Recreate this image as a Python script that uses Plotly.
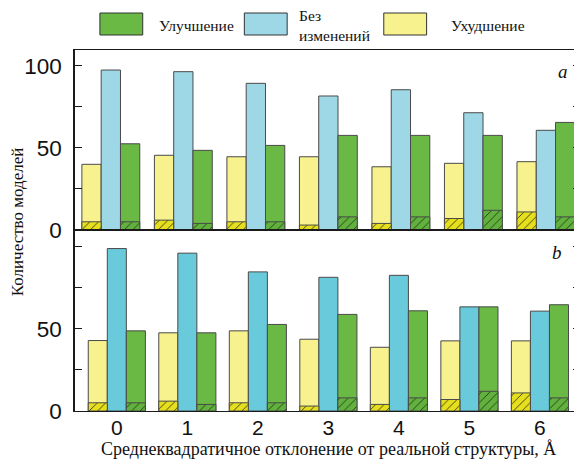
import plotly.graph_objects as go
from plotly.subplots import make_subplots

# ---------------- data ----------------
categories = [0, 1, 2, 3, 4, 5, 6]
tick_labels = ["0", "1", "2", "3", "4", "5", "6"]
series_names = ["Ухудшение", "Без изменений", "Улучшение"]

# panel a
a_worse = [40, 45.5, 44.6, 44.6, 38.5, 40.6, 41.6]
a_worse_hatched = [5, 6, 5, 3, 4, 7, 11]
a_same = [97.4, 96.4, 89.3, 81.6, 85.4, 71.4, 60.7]
a_better = [52.5, 48.5, 51.5, 57.6, 57.6, 57.6, 65.5]
a_better_hatched = [5, 4, 5, 8, 8, 12, 8]

# panel b
b_worse = [42.9, 47.6, 48.8, 43.7, 38.8, 42.7, 42.7]
b_worse_hatched = [5, 6, 5, 3, 4, 7, 11]
b_same = [98.9, 96.1, 84.7, 81.4, 82.6, 63.4, 60.8]
b_better = [48.8, 47.6, 52.7, 58.8, 61.0, 63.4, 64.7]
b_better_hatched = [5, 4, 5, 8, 8, 12, 8]

y_tick_vals = [0, 50, 100]
a_y_tick_text = ["0", "50", "100"]
b_y_tick_text = ["0", "50", ""]

# ---------------- styles ----------------
OFF = 8  # page body margin of the browser
W, H = 582 - OFF, 461 - OFF
ML, MR, MT, MB = 75 - OFF, 0, 50 - OFF, 461 - 411
PW, PH = W - ML - MR, H - MT - MB

YELLOW = "#F7F28D"
YELLOW_H = "#E6DF1E"
BLUE_A = "#9ED8E6"
BLUE_B = "#68CADB"
GREEN = "#69B944"
GREEN_H = "#62B13E"
EDGE = "#4a4a4a"
AXIS = "#1a1a1a"
SANS = "Liberation Sans, Arial, sans-serif"
SERIF = "Liberation Serif, Times New Roman, serif"


def px(x):
    # x given in reference page pixels
    return (x - OFF - ML) / PW


def py(y):
    # y given in reference page pixels
    return (H - MB - (y - OFF)) / PH


fig = make_subplots(rows=2, cols=1, vertical_spacing=0)


def add_panel(row, worse, worse_h, same, better, better_h, blue, w):
    line = dict(color=EDGE, width=1)
    fig.add_trace(go.Bar(x=categories, y=worse, width=w, offset=-1.5 * w,
                         marker=dict(color=YELLOW, line=line), name=series_names[0],
                         showlegend=False), row=row, col=1)
    fig.add_trace(go.Bar(x=categories, y=same, width=w, offset=-0.5 * w,
                         marker=dict(color=blue, line=line), name=series_names[1],
                         showlegend=False), row=row, col=1)
    fig.add_trace(go.Bar(x=categories, y=better, width=w, offset=0.5 * w,
                         marker=dict(color=GREEN, line=line), name=series_names[2],
                         showlegend=False), row=row, col=1)
    fig.add_trace(go.Bar(x=categories, y=worse_h, width=w, offset=-1.5 * w,
                         marker=dict(color=YELLOW_H, line=line,
                                     pattern=dict(shape="/", fgcolor="#3a3a10", bgcolor=YELLOW_H,
                                                  size=6, solidity=0.15, fillmode="replace")),
                         showlegend=False), row=row, col=1)
    fig.add_trace(go.Bar(x=categories, y=better_h, width=w, offset=0.5 * w,
                         marker=dict(color=GREEN_H, line=line,
                                     pattern=dict(shape="/", fgcolor="#1f3d12", bgcolor=GREEN_H,
                                                  size=6, solidity=0.15, fillmode="replace")),
                         showlegend=False), row=row, col=1)


add_panel(1, a_worse, a_worse_hatched, a_same, a_better, a_better_hatched, BLUE_A, 0.266)
add_panel(2, b_worse, b_worse_hatched, b_same, b_better, b_better_hatched, BLUE_B, 0.27)

split = py(230)
common_y = dict(showline=True, linecolor=AXIS, linewidth=1.5, mirror="ticks",
                ticks="inside", ticklen=7, tickwidth=1.2, tickcolor=AXIS,
                tickvals=y_tick_vals, showgrid=False, zeroline=False,
                tickfont=dict(family=SANS, size=22.5, color="#111"),
                ticklabelstandoff=7,
                minor=dict(ticks="inside", ticklen=7, tickwidth=1.2, tickcolor=AXIS,
                           tickvals=[25, 75], showgrid=False))
fig.update_yaxes(row=1, col=1, range=[0, 109.6], domain=[split, 1.0],
                 ticktext=a_y_tick_text, **common_y)
fig.update_yaxes(row=2, col=1, range=[0, 110.2], domain=[0.0, split],
                 ticktext=b_y_tick_text, **common_y)

common_x = dict(showline=True, linecolor=AXIS, linewidth=1.2, mirror=True,
                ticks="", showgrid=False, zeroline=False,
                tickvals=categories, ticktext=tick_labels)
fig.update_xaxes(row=1, col=1, range=[-0.494, -0.494 + PW / 72.8],
                 showticklabels=False, **common_x)
fig.update_xaxes(row=2, col=1, range=[-0.593, -0.593 + PW / 70.8],
                 showticklabels=True, ticklabelstandoff=-2,
                 tickfont=dict(family=SANS, size=21, color="#111"), **common_x)

# ---------------- legend (drawn) ----------------
shapes = []
annotations = []
legend_items = [
    (100, 143, GREEN, "Улучшение", 157),
    (245, 288, BLUE_A, "Без<br>изменений", 298),
    (385, 428, YELLOW, "Ухудшение", 450),
]
for x0, x1, col, label, tx in legend_items:
    shapes.append(dict(type="rect", xref="paper", yref="paper",
                       x0=px(x0), x1=px(x1), y0=py(35), y1=py(13),
                       fillcolor=col, line=dict(color="#333", width=1)))
    annotations.append(dict(xref="paper", yref="paper", x=px(tx), y=py(25),
                            xanchor="left", yanchor="middle", align="left",
                            text=label, showarrow=False,
                            font=dict(family=SERIF, size=15.5, color="#111")))

# panel letters
annotations.append(dict(xref="paper", yref="paper", x=px(565), y=py(72), text="<i>a</i>",
                        showarrow=False, xanchor="center", yanchor="middle",
                        font=dict(family=SERIF, size=19, color="#111")))
annotations.append(dict(xref="paper", yref="paper", x=px(559), y=py(252), text="<i>b</i>",
                        showarrow=False, xanchor="center", yanchor="middle",
                        font=dict(family=SERIF, size=19, color="#111")))

# axis titles
annotations.append(dict(xref="paper", yref="paper", x=px(330), y=py(449),
                        text="Среднеквадратичное отклонение от реальной структуры, Å",
                        showarrow=False, xanchor="center", yanchor="middle",
                        font=dict(family=SERIF, size=18, color="#111")))
annotations.append(dict(xref="paper", yref="paper", x=px(17), y=py(222),
                        text="Количество моделей", textangle=-90,
                        showarrow=False, xanchor="center", yanchor="middle",
                        font=dict(family=SERIF, size=17, color="#111")))

fig.update_layout(width=W, height=H, margin=dict(l=ML, r=MR, t=MT, b=MB),
                  barmode="overlay", plot_bgcolor="white", paper_bgcolor="white",
                  showlegend=False, shapes=shapes, annotations=annotations)

fig.write_html("out.html")
